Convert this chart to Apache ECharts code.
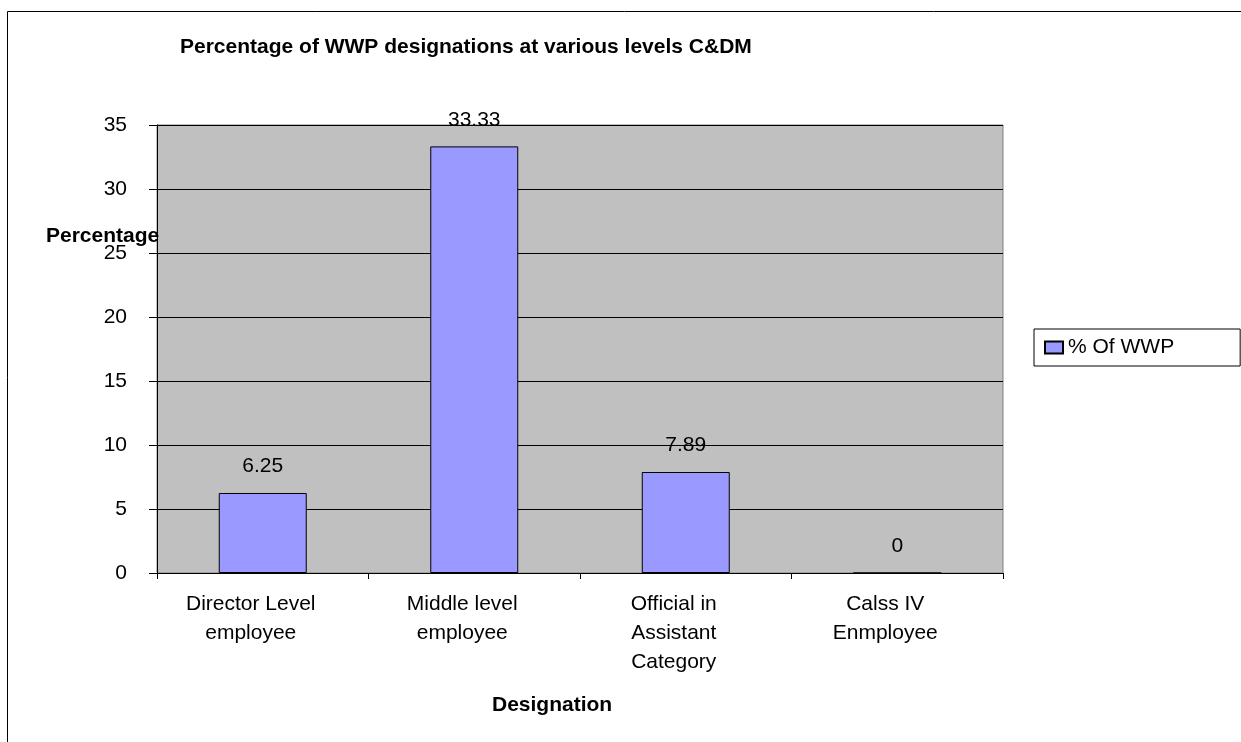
<!DOCTYPE html>
<html>
<head>
<meta charset="utf-8">
<script src="https://cdn.jsdelivr.net/npm/echarts@6/dist/echarts.min.js"></script>
<style>
html, body { margin: 0; padding: 0; background: #fff; }
#chart { width: 1241px; height: 742px; }
</style>
</head>
<body>
<div id="chart"></div>
<script>
// categories
var categories = ['Director Level\nemployee', 'Middle level\nemployee', 'Official in\nAssistant\nCategory', 'Calss IV\nEnmployee'];
// % of WWP
var wwpValues = [6.25, 33.33, 7.89, 0];
// y axis ticks
var yMin = 0, yMax = 35, yStep = 5;

var chart = echarts.init(document.getElementById('chart'));
var font = 'Liberation Sans, Arial, sans-serif';
var option = {
    animation: false,
    textStyle: { fontFamily: font },
    title: {
        text: 'Percentage of WWP designations at various levels C&DM',
        left: 180,
        top: 37,
        padding: 0,
        textStyle: { fontSize: 21, fontWeight: 'bold', color: '#000', fontFamily: font }
    },
    legend: {
        left: 1034,
        top: 329,
        padding: [8, 66, 8, 10],
        borderColor: '#000',
        borderWidth: 1,
        itemWidth: 18,
        itemHeight: 12,
        itemGap: 8,
        icon: 'rect',
        textStyle: { fontSize: 21, color: '#000', fontFamily: font },
        data: ['% Of WWP']
    },
    grid: {
        left: 157,
        right: 238,
        top: 125,
        bottom: 169,
        show: true,
        backgroundColor: '#C0C0C0',
        borderColor: '#808080',
        borderWidth: 1
    },
    xAxis: {
        type: 'category',
        data: categories,
        axisLine: { lineStyle: { color: '#000', width: 1 } },
        axisTick: { show: true, length: 6, lineStyle: { color: '#000' } },
        axisLabel: {
            margin: 17, fontSize: 21, lineHeight: 29, color: '#000', fontFamily: font,
            interval: 0, padding: [0, 24, 0, 0]
        }
    },
    yAxis: {
        type: 'value',
        min: yMin,
        max: yMax,
        interval: yStep,
        axisLine: { show: true, lineStyle: { color: '#000', width: 1 } },
        axisTick: { show: true, length: 8, lineStyle: { color: '#000' } },
        axisLabel: { margin: 30, fontSize: 21, color: '#000', fontFamily: font },
        splitLine: { show: true, lineStyle: { color: '#000', width: 1 } }
    },
    graphic: [
        {
            type: 'rect',
            shape: { x: 7.5, y: 11.5, width: 1240, height: 740 },
            style: { fill: 'none', stroke: '#000', lineWidth: 1 },
            silent: true,
            z: -10
        },
        {
            type: 'text',
            left: 46,
            top: 226,
            style: { text: 'Percentage', font: 'bold 21px ' + font, fill: '#000' },
            z: 100
        },
        {
            type: 'text',
            left: 492,
            top: 695,
            style: { text: 'Designation', font: 'bold 21px ' + font, fill: '#000' }
        }
    ],
    series: [{
        name: '% Of WWP',
        type: 'bar',
        data: wwpValues,
        barWidth: 88,
        itemStyle: { color: '#9999FF', borderColor: '#000', borderWidth: 1 },
        label: {
            show: true,
            position: 'top',
            distance: 16,
            fontSize: 21,
            color: '#000',
            fontFamily: font
        }
    }]
};
chart.setOption(option);
</script>
</body>
</html>
